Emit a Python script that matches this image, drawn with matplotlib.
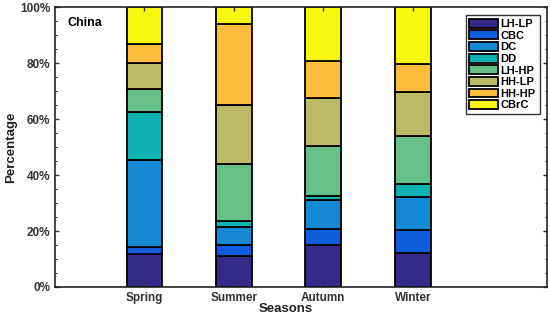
import numpy as np
import matplotlib
matplotlib.use("Agg")
import matplotlib.pyplot as plt
import matplotlib.ticker as mtick

seasons = ['Spring', 'Summer', 'Autumn', 'Winter']
types = ['LH-LP', 'CBC', 'DC', 'DD', 'LH-HP', 'HH-LP', 'HH-HP', 'CBrC']
# percentage of each type per season
lh_lp = [11.8, 11.0, 14.9, 12.0]
cbc = [2.6, 4.1, 5.8, 8.5]
dc = [31.0, 6.3, 10.4, 11.6]
dd = [17.2, 2.2, 1.4, 4.7]
lh_hp = [8.0, 20.4, 18.0, 17.1]
hh_lp = [9.6, 21.2, 16.9, 15.6]
hh_hp = [6.6, 28.6, 13.4, 10.1]
cbrc = [13.2, 6.2, 19.2, 20.4]
colors = ['#352a87', '#0f5cdd', '#1589d4', '#10b1b2', '#66c08a',
          '#bdba66', '#fdbd3c', '#f8f80f']

plt.rcParams['font.family'] = ['Liberation Sans', 'DejaVu Sans']
plt.rcParams['font.weight'] = 'bold'

fig = plt.figure(figsize=(5.5, 3.25), dpi=100)
ax = fig.add_axes([0.1, 0.117, 0.8945, 0.861])

x = np.arange(1, len(seasons) + 1)
bottom = np.zeros(len(seasons))
for name, vals, c in zip(types, [lh_lp, cbc, dc, dd, lh_hp, hh_lp, hh_hp, cbrc], colors):
    ax.bar(x, vals, width=0.4, bottom=bottom, color=c, edgecolor='black',
           linewidth=1.3, label=name)
    bottom += np.array(vals)

ax.set_xlim(0, 5.5)
ax.set_ylim(0, 100)
ax.set_xticks(x)
ax.set_xticklabels(seasons, fontsize=8.5, fontweight='bold', color='#333333')
ax.set_yticks(np.arange(0, 101, 20))
ax.yaxis.set_major_formatter(mtick.PercentFormatter(decimals=0))
ax.yaxis.set_minor_locator(mtick.AutoMinorLocator(4))
ax.tick_params(axis='both', direction='in', top=True, right=True, labelsize=8.5,
               length=3, width=1.0, color='#333333', labelcolor='#333333')
ax.tick_params(axis='y', which='minor', direction='in', right=True, length=1.5)
for lab in ax.get_yticklabels():
    lab.set_fontweight('bold')
for s in ax.spines.values():
    s.set_linewidth(1.2)
    s.set_color('#222222')

ax.set_ylabel('Percentage', fontsize=9.5, fontweight='bold', labelpad=2, color='#222222')
ax.set_xlabel('Seasons', fontsize=9.5, fontweight='bold', color='#222222')
ax.xaxis.set_label_coords(0.47, -0.058)
ax.text(0.025, 0.965, 'China', transform=ax.transAxes, fontsize=9,
        fontweight='bold', va='top', ha='left')

leg = ax.legend(loc='upper right', bbox_to_anchor=(0.985, 0.972), fontsize=8,
                frameon=True, fancybox=False, edgecolor='black',
                handlelength=2.6, handleheight=0.85, handletextpad=0.2,
                labelspacing=0.12, borderpad=0.35, borderaxespad=0.0)
leg.get_frame().set_linewidth(1.0)

fig.savefig('out.png', dpi=100)
